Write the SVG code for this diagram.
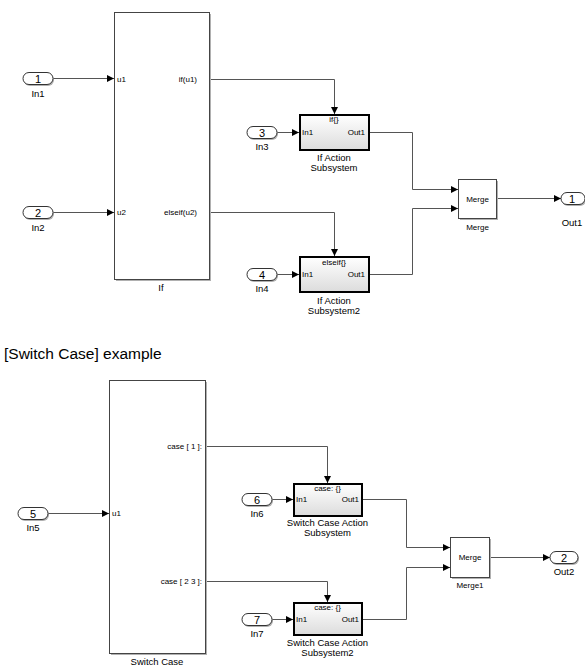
<svg xmlns="http://www.w3.org/2000/svg" width="585" height="666" viewBox="0 0 585 666">
<defs>
<marker id="arr" markerUnits="userSpaceOnUse" markerWidth="8" markerHeight="8" refX="7" refY="4" orient="auto">
<path d="M0,0.5 L7,4 L0,7.5 z" fill="#000"/>
</marker>
<linearGradient id="sg" x1="0" y1="0" x2="0" y2="1">
<stop offset="0" stop-color="#ffffff"/>
<stop offset="1" stop-color="#dcdcdc"/>
</linearGradient>
<style>
.t{font-family:"Liberation Sans",Arial,sans-serif;fill:#000}
.s{font-size:8px}
.m{font-size:9.5px}
.n{font-size:11px}
.blk{fill:#fff;stroke:#444;stroke-width:1}
.sh{fill:#b0b0b0}
.sub{fill:url(#sg);stroke:#000;stroke-width:2}
.port{fill:#fff;stroke:#333;stroke-width:1}
.c{fill:none;stroke:#555;stroke-width:1;marker-end:url(#arr)}
.cn{fill:none;stroke:#555;stroke-width:1}
</style>
</defs>
<rect width="585" height="666" fill="#fff"/>

<g id="connectors">
<path class="c" d="M53,78.5 H114"/>
<path class="c" d="M53,212.5 H114"/>
<path class="c" d="M209,79.5 H334.5 V114"/>
<path class="c" d="M209,212.5 H334.5 V256"/>
<path class="c" d="M277,132.5 H299"/>
<path class="c" d="M277,274.5 H299"/>
<path class="c" d="M368,132.5 H412.5 V189.5 H458"/>
<path class="c" d="M368,274.5 H412.5 V208.5 H458"/>
<path class="c" d="M496,198.5 H561"/>

<path class="c" d="M48,513.5 H109"/>
<path class="c" d="M205,446.5 H327.5 V483"/>
<path class="c" d="M205,581.5 H327.5 V602"/>
<path class="c" d="M272,499.5 H293"/>
<path class="c" d="M272,619.5 H293"/>
<path class="c" d="M362,499.5 H406.5 V547.5 H450"/>
<path class="c" d="M362,619.5 H406.5 V567.5 H450"/>
<path class="c" d="M489,557.5 H550"/>
</g>

<!-- top section -->
<g id="In1">
<rect x="24" y="74" width="30" height="12" rx="6" class="sh"/>
<rect x="23" y="72.5" width="30" height="12" rx="6" class="port"/>
<text class="t n" x="38" y="82.5" text-anchor="middle">1</text>
<text class="t m" x="38" y="97" text-anchor="middle">In1</text>
</g>
<g id="In2">
<rect x="24" y="208" width="30" height="12" rx="6" class="sh"/>
<rect x="23" y="206.5" width="30" height="12" rx="6" class="port"/>
<text class="t n" x="38" y="216.5" text-anchor="middle">2</text>
<text class="t m" x="38" y="231" text-anchor="middle">In2</text>
</g>
<g id="If">
<rect x="116" y="14" width="95" height="267" class="sh"/>
<rect x="114.5" y="12.5" width="95" height="267" class="blk"/>
<text class="t s" x="117" y="81.5">u1</text>
<text class="t s" x="117" y="215">u2</text>
<text class="t s" x="197" y="81.5" text-anchor="end">if(u1)</text>
<text class="t s" x="197" y="215" text-anchor="end">elseif(u2)</text>
<text class="t m" x="161" y="291" text-anchor="middle">If</text>
</g>
<g id="In3">
<rect x="248" y="128" width="30" height="12" rx="6" class="sh"/>
<rect x="247" y="126.5" width="30" height="12" rx="6" class="port"/>
<text class="t n" x="262" y="136.5" text-anchor="middle">3</text>
<text class="t m" x="262" y="150" text-anchor="middle">In3</text>
</g>
<g id="IfActionSubsystem">
<rect x="300" y="115" width="69" height="35" class="sub"/>
<text class="t s" x="334" y="122" text-anchor="middle">if{}</text>
<text class="t s" x="302" y="135">In1</text>
<text class="t s" x="365" y="135" text-anchor="end">Out1</text>
<text class="t m" x="334" y="161" text-anchor="middle">If Action</text>
<text class="t m" x="334" y="171" text-anchor="middle">Subsystem</text>
</g>
<g id="In4">
<rect x="248" y="270" width="30" height="12" rx="6" class="sh"/>
<rect x="247" y="268.5" width="30" height="12" rx="6" class="port"/>
<text class="t n" x="262" y="278.5" text-anchor="middle">4</text>
<text class="t m" x="262" y="292" text-anchor="middle">In4</text>
</g>
<g id="IfActionSubsystem2">
<rect x="300" y="257" width="69" height="35" class="sub"/>
<text class="t s" x="334" y="265" text-anchor="middle">elseif{}</text>
<text class="t s" x="302" y="277">In1</text>
<text class="t s" x="365" y="277" text-anchor="end">Out1</text>
<text class="t m" x="334" y="304" text-anchor="middle">If Action</text>
<text class="t m" x="334" y="314" text-anchor="middle">Subsystem2</text>
</g>
<g id="Merge">
<rect x="460" y="181" width="38" height="39" class="sh"/>
<rect x="458.5" y="179.5" width="38" height="39" class="blk"/>
<text class="t s" x="477.5" y="202" text-anchor="middle">Merge</text>
<text class="t s" x="477.5" y="230" text-anchor="middle">Merge</text>
</g>
<g id="Out1">
<rect x="562" y="194" width="24" height="12" rx="6" class="sh"/>
<rect x="561" y="192.5" width="24" height="12" rx="6" class="port"/>
<text class="t n" x="572" y="202.5" text-anchor="middle">1</text>
<text class="t m" x="572" y="226" text-anchor="middle">Out1</text>
</g>

<text class="t" x="4" y="359" font-size="15.5">[Switch Case] example</text>

<!-- bottom section -->
<g id="In5">
<rect x="19" y="509" width="30" height="12" rx="6" class="sh"/>
<rect x="18" y="507.5" width="30" height="12" rx="6" class="port"/>
<text class="t n" x="33" y="517.5" text-anchor="middle">5</text>
<text class="t m" x="33" y="531" text-anchor="middle">In5</text>
</g>
<g id="SwitchCase">
<rect x="111" y="382" width="96" height="273" class="sh"/>
<rect x="109.5" y="380.5" width="96" height="273" class="blk"/>
<text class="t s" x="112" y="516">u1</text>
<text class="t s" x="202" y="449" text-anchor="end">case [ 1 ]:</text>
<text class="t s" x="202" y="584" text-anchor="end">case [ 2 3 ]:</text>
<text class="t m" x="157" y="665" text-anchor="middle">Switch Case</text>
</g>
<g id="In6">
<rect x="243" y="495" width="30" height="12" rx="6" class="sh"/>
<rect x="242" y="493.5" width="30" height="12" rx="6" class="port"/>
<text class="t n" x="257" y="503.5" text-anchor="middle">6</text>
<text class="t m" x="257" y="517" text-anchor="middle">In6</text>
</g>
<g id="SwitchCaseActionSubsystem">
<rect x="294" y="484" width="68" height="32" class="sub"/>
<text class="t s" x="327.5" y="491" text-anchor="middle">case: {}</text>
<text class="t s" x="296" y="502">In1</text>
<text class="t s" x="359" y="502" text-anchor="end">Out1</text>
<text class="t m" x="327.5" y="526" text-anchor="middle">Switch Case Action</text>
<text class="t m" x="327.5" y="536" text-anchor="middle">Subsystem</text>
</g>
<g id="In7">
<rect x="243" y="615" width="30" height="12" rx="6" class="sh"/>
<rect x="242" y="613.5" width="30" height="12" rx="6" class="port"/>
<text class="t n" x="257" y="623.5" text-anchor="middle">7</text>
<text class="t m" x="257" y="637" text-anchor="middle">In7</text>
</g>
<g id="SwitchCaseActionSubsystem2">
<rect x="294" y="603" width="68" height="32" class="sub"/>
<text class="t s" x="327.5" y="610" text-anchor="middle">case: {}</text>
<text class="t s" x="296" y="622">In1</text>
<text class="t s" x="359" y="622" text-anchor="end">Out1</text>
<text class="t m" x="327.5" y="646" text-anchor="middle">Switch Case Action</text>
<text class="t m" x="327.5" y="656" text-anchor="middle">Subsystem2</text>
</g>
<g id="Merge1">
<rect x="452" y="539" width="39" height="40" class="sh"/>
<rect x="450.5" y="537.5" width="39" height="40" class="blk"/>
<text class="t s" x="470" y="560" text-anchor="middle">Merge</text>
<text class="t s" x="470" y="588" text-anchor="middle">Merge1</text>
</g>
<g id="Out2">
<rect x="551" y="553" width="28" height="12" rx="6" class="sh"/>
<rect x="550" y="551.5" width="28" height="12" rx="6" class="port"/>
<text class="t n" x="564" y="561.5" text-anchor="middle">2</text>
<text class="t m" x="564" y="575" text-anchor="middle">Out2</text>
</g>
</svg>
